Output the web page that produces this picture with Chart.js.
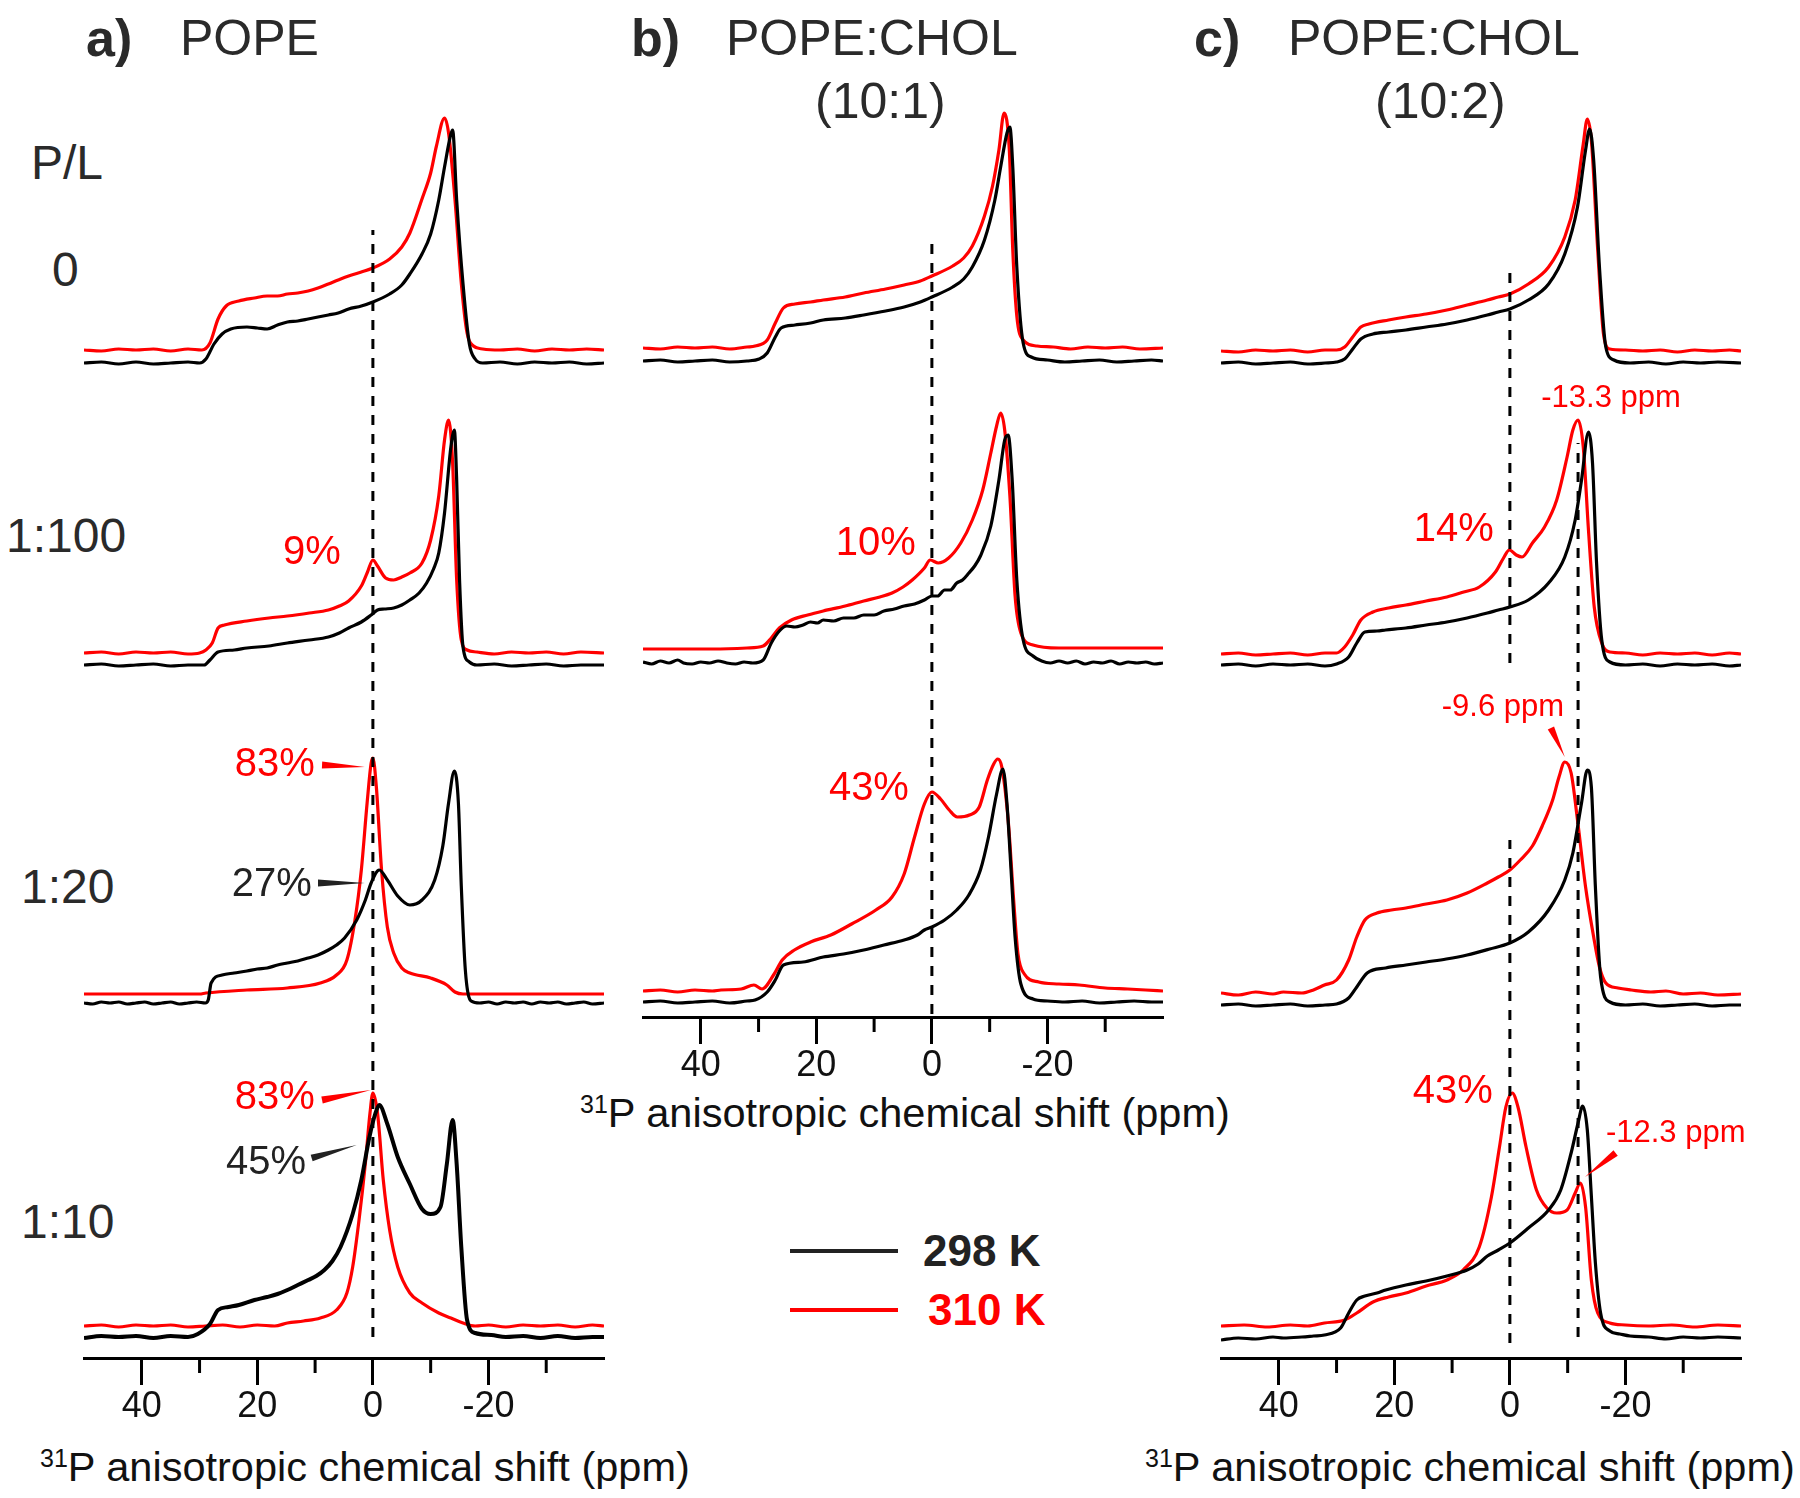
<!DOCTYPE html>
<html>
<head>
<meta charset="utf-8">
<script src="https://cdn.jsdelivr.net/npm/chart.js@4.4.0/dist/chart.umd.min.js"></script>
<style>
  body { margin:0; background:#fff; width:1800px; height:1498px; position:relative; overflow:hidden;
         font-family:"Liberation Sans", Arial, sans-serif; }
  canvas { position:absolute; top:0; }
  .t { position:absolute; white-space:nowrap; line-height:1; color:#2a2a2a; }
  .b { font-weight:bold; }
  .ax { font-size:41.5px; color:#111; }
  .ax sup { font-size:25px; vertical-align:14px; line-height:0; }
  .leg { position:absolute; height:4px; width:108px; }
</style>
</head>
<body>

<div class="t b" style="left:86px;top:12px;font-size:52px">a)</div>
<div class="t" style="left:180px;top:13px;font-size:50px">POPE</div>
<div class="t b" style="left:631px;top:12px;font-size:52px">b)</div>
<div class="t" style="left:726px;top:13px;font-size:50px">POPE:CHOL</div>
<div class="t" style="left:815px;top:76px;font-size:50px">(10:1)</div>
<div class="t b" style="left:1194px;top:12px;font-size:52px">c)</div>
<div class="t" style="left:1288px;top:13px;font-size:50px">POPE:CHOL</div>
<div class="t" style="left:1375px;top:76px;font-size:50px">(10:2)</div>

<div class="t" style="left:31px;top:139px;font-size:48px">P/L</div>
<div class="t" style="left:52px;top:246px;font-size:48px">0</div>
<div class="t" style="left:6px;top:512px;font-size:48px">1:100</div>
<div class="t" style="left:21px;top:863px;font-size:48px">1:20</div>
<div class="t" style="left:21px;top:1198px;font-size:48px">1:10</div>

<div class="t ax" style="left:40px;top:1446px"><sup>31</sup>P anisotropic chemical shift (ppm)</div>
<div class="t ax" style="left:580px;top:1092px"><sup>31</sup>P anisotropic chemical shift (ppm)</div>
<div class="t ax" style="left:1145px;top:1446px"><sup>31</sup>P anisotropic chemical shift (ppm)</div>

<div class="leg" style="left:790px;top:1249px;background:#222"></div>
<div class="leg" style="left:790px;top:1308px;background:#ff0000"></div>
<div class="t b" style="left:923px;top:1229px;font-size:44px;color:#222">298 K</div>
<div class="t b" style="left:928px;top:1288px;font-size:44px;color:#ff0000">310 K</div>

<canvas id="pa" width="660" height="1438" style="left:14px"></canvas>
<canvas id="pb" width="660" height="1097" style="left:573px"></canvas>
<canvas id="pc" width="639" height="1438" style="left:1161px"></canvas>

<script>
// ppm, intensity (a.u.), baseline = 0
// a) POPE
const a0_298 = [[50,0],[47,1],[44,-1],[41,1],[38,-1],[35,0],[32,1],[30,0],[28.9,4],[27.5,19],[26.1,29],[24.6,34],[21.8,36],[20,35],[18.3,34],[16.5,38],[14.8,41],[13,42],[11.2,44],[9.5,46],[7.7,48],[6,50],[4.2,54],[2,57],[0,61],[-2.9,69],[-5,78],[-6.4,89],[-8.5,109],[-10,129],[-11.4,163],[-12.4,196],[-13.5,229],[-13.8,233],[-14.5,163],[-15.6,79],[-16.7,19],[-17.7,4],[-19,0],[-22,1],[-25,-1],[-28,1],[-31,0],[-34,1],[-37,-1],[-40,0]];
const a0_310 = [[50,0],[47,-1],[44,1],[41,0],[38,1],[35,-1],[32,1],[29.6,0],[28.2,7],[26.8,31],[25.4,44],[23.2,49],[20.5,52],[18.3,54],[16.5,54],[14.8,56],[13,57],[11.2,59],[9.5,62],[7.7,66],[6,70],[4.2,74],[2,78],[0,82],[-2.9,91],[-5,103],[-6.4,117],[-8.5,151],[-10,177],[-11,204],[-12.4,232],[-13.1,217],[-14.2,151],[-15.3,67],[-16.3,17],[-17.4,4],[-19,1],[-22,0],[-25,1],[-28,-1],[-31,1],[-34,0],[-37,1],[-40,0]];
const a1_298 = [[50,0],[47,1],[44,-1],[41,0],[38,1],[35,-1],[32,0],[29.2,0],[28.2,5],[26.8,13],[24,15],[21.8,17],[18,19],[14.8,22],[11,25],[7.7,28],[5.8,32],[4.2,37],[2,43],[0.3,50],[-0.8,55],[-2,56],[-3.6,57],[-5,60],[-6.4,65],[-8,72],[-9.3,82],[-10.5,96],[-11.4,112],[-12.4,152],[-13.5,218],[-14.1,235],[-14.5,185],[-15,85],[-15.6,18],[-16.7,3],[-18,0],[-21,1],[-24,-1],[-27,0],[-30,1],[-33,-1],[-36,0],[-40,0]];
const a1_310 = [[50,0],[47,1],[44,-1],[41,1],[38,0],[35,1],[32,-1],[30,0],[28.9,3],[27.8,10],[26.8,25],[25.7,28],[21.8,32],[18,35],[14.8,37],[11,40],[7.7,43],[5.8,47],[4.2,52],[2,67],[1,80],[0,93],[-0.8,87],[-2.2,75],[-3.6,73],[-5,76],[-6.4,80],[-8.5,90],[-10,113],[-11.4,157],[-12.4,213],[-13.1,233],[-13.8,190],[-14.5,73],[-15.3,13],[-16.3,3],[-18,1],[-21,-1],[-24,1],[-27,0],[-30,1],[-33,-1],[-36,1],[-40,0]];
const a2_298 = [[50,0],[48.5,-1],[47,1],[45.5,0],[44,1],[42.5,-1],[41,0],[39.5,1],[38,-1],[36.5,0],[35,1],[33.5,-1],[32,0],[30.5,1],[29,0],[28.5,3],[28,20],[26.1,28],[24,30],[21.8,32],[20,34],[18.3,35],[16.5,38],[14.8,40],[13,42],[11.2,45],[9.5,48],[7.7,53],[6.3,58],[4.9,65],[2.8,83],[1.3,103],[0.3,120],[-1.1,133],[-2.5,123],[-4.3,107],[-6.4,98],[-8.5,103],[-10.7,123],[-12.1,157],[-13.1,200],[-14.1,232],[-14.8,200],[-15.3,117],[-16,33],[-17,2],[-18.5,0],[-20,1],[-21.5,-1],[-23,1],[-24.5,0],[-26,1],[-27.5,-1],[-29,1],[-30.5,0],[-32,1],[-33.5,-1],[-35,0],[-36.5,1],[-38,-1],[-40,0]];
const a2_310 = [[50,0],[40,0],[30,0],[28.9,1],[21.8,4],[14.8,6],[9.1,11],[6.3,19],[4.5,34],[3.1,74],[2,124],[1,191],[0.3,231],[0,236],[-0.6,207],[-1.5,124],[-2.5,67],[-3.6,41],[-5,26],[-6.4,21],[-10,16],[-12.8,9],[-14.2,2],[-15.6,0],[-25,0],[-40,0]];
const a3_298 = [[50,-1],[47,1],[44,0],[41,1],[38,-1],[35,1],[32,0],[30.3,3],[28.2,13],[26.8,27],[25,30],[23.2,32],[20.5,37],[18.3,40],[16.5,43],[14.8,47],[13,52],[11.2,57],[9.8,61],[8.4,67],[7,76],[5.6,90],[3.5,123],[2,157],[0.6,200],[-0.4,223],[-1.1,232],[-2.5,213],[-4.3,180],[-6.4,153],[-8.5,128],[-10,123],[-11.7,130],[-12.8,173],[-13.8,217],[-14.5,173],[-15.3,90],[-16.3,17],[-17.7,4],[-20.5,2],[-23,0],[-26,1],[-29,-1],[-32,1],[-35,-1],[-38,0],[-40,0]];
const a3_310 = [[50,0],[47,1],[44,-1],[41,1],[38,0],[35,1],[32,-1],[29,0],[26,1],[23,-1],[20,1],[17,0],[14.8,3],[12,5],[9.1,8],[6.3,16],[4.5,33],[3.5,59],[2.4,106],[1.3,163],[0.5,213],[0,233],[-0.8,213],[-1.8,146],[-2.9,96],[-4.3,59],[-6.4,33],[-8.5,23],[-11.4,13],[-13.5,8],[-15.6,3],[-17.7,0],[-20,1],[-23,-1],[-26,1],[-29,0],[-32,1],[-35,-1],[-38,1],[-40,0]];

// b) POPE:CHOL (10:1)
const b0_298 = [[50,0],[47,1],[44,-1],[41,0],[38,1],[35,-1],[32,0],[29.9,2],[28.5,8],[27.1,24],[26.1,33],[23.7,36],[21,38],[18.8,41],[15,43],[11.8,46],[8,50],[4.8,54],[2,59],[0,64],[-3.6,74],[-5.5,82],[-7,94],[-9.1,121],[-10.9,161],[-11.9,194],[-13,228],[-13.5,234],[-14,194],[-14.7,94],[-15.8,18],[-17.2,4],[-20,1],[-23,-1],[-26,0],[-29,1],[-32,-1],[-35,0],[-38,1],[-40,0]];
const b0_310 = [[50,0],[47,-1],[44,1],[41,0],[38,1],[35,-1],[32,1],[30.6,2],[28.5,8],[27.1,25],[25.7,40],[23.7,44],[21,46],[18.8,48],[15,51],[11.8,55],[8,59],[4.8,63],[2,67],[0,72],[-3.6,82],[-5.5,90],[-7,102],[-9.1,132],[-10.5,162],[-11.6,198],[-12.5,235],[-13.4,198],[-14,98],[-14.7,32],[-15.8,8],[-18.2,2],[-21,1],[-24,-1],[-27,1],[-30,0],[-33,1],[-36,-1],[-40,0]];
const b1_298 = [[50,1],[48.5,-1],[47,2],[45.5,0],[44,3],[43,0],[41.5,-1],[40,1],[38.5,0],[37,2],[35.5,0],[34,-1],[32.5,1],[31,0],[29.2,3],[27.8,20],[26.4,32],[25.1,37],[23.7,36],[22.3,38],[21,41],[19.8,40],[18.8,43],[17,42],[15.3,45],[13.5,45],[11.8,48],[10,48],[8.3,52],[6.5,54],[4.8,57],[3,59],[1.3,63],[0,67],[-1,67],[-2.2,73],[-3.2,73],[-4.3,80],[-5.3,83],[-6.4,90],[-7.4,97],[-8.4,107],[-10.2,137],[-11.6,183],[-12.6,223],[-13.2,228],[-13.9,183],[-14.7,83],[-15.8,23],[-17.5,7],[-19,2],[-20.5,0],[-22,2],[-23.5,0],[-25,2],[-26.5,-1],[-28,1],[-29.5,0],[-31,2],[-32.5,-1],[-34,1],[-35.5,0],[-37,1],[-38.5,-1],[-40,0]];
const b1_310 = [[50,0],[44,0],[38,0],[32,1],[29.2,3],[27.8,11],[26.4,21],[24.3,29],[21.5,34],[18.8,38],[15,43],[11.8,48],[9,52],[6.9,56],[5,62],[3.4,69],[1.3,81],[0.3,89],[-1.1,86],[-2.9,91],[-5,106],[-7,129],[-8.8,159],[-10.2,196],[-11.2,223],[-11.9,236],[-12.6,219],[-13.5,153],[-14.4,53],[-15.4,16],[-17.5,4],[-22,1],[-30,1],[-40,1]];
const b2_298 = [[50,0],[47,1],[44,-1],[41,0],[38,1],[35,-1],[32,1],[30.6,2],[28.5,10],[27.1,22],[25.7,37],[22.3,40],[18.8,45],[15.3,48],[11.8,52],[8.3,57],[4.8,62],[2.5,67],[1.3,72],[0,75],[-2.2,82],[-4.3,92],[-6.4,107],[-8.4,132],[-9.8,165],[-11.2,208],[-12.3,233],[-13,198],[-13.7,132],[-14.4,65],[-15.4,18],[-17.5,3],[-20,1],[-23,0],[-26,1],[-29,-1],[-32,0],[-35,1],[-38,0],[-40,0]];
const b2_310 = [[50,0],[47,1],[44,-1],[41,1],[38,0],[36.5,1],[33,2],[30.8,6],[29.4,2],[27.3,17],[25.9,31],[23.8,41],[21,49],[17.5,56],[13.9,67],[9.7,81],[6.9,94],[4.8,117],[3,154],[1.3,187],[0,199],[-1.5,192],[-3,181],[-4.4,174],[-6.5,176],[-8.2,184],[-9.6,211],[-10.7,227],[-11.4,232],[-12.1,224],[-13.2,171],[-14.2,87],[-14.9,37],[-16,17],[-18.5,9],[-22,7],[-25.5,6],[-30,3],[-33.9,2],[-37,1],[-40,0]];

// c) POPE:CHOL (10:2)
const c0_298 = [[50,0],[47,1],[44,-1],[41,0],[38,1],[35,-1],[32,0],[30,1],[28.6,4],[27.2,14],[25.8,24],[23.7,29],[21,31],[18,33],[14.5,36],[10.9,39],[7.4,43],[3.9,48],[2,51],[0,54],[-3.2,63],[-6.7,79],[-9.5,109],[-11.7,156],[-13.1,213],[-13.8,234],[-14.5,203],[-15.5,96],[-16.6,16],[-18,3],[-20.8,0],[-24,1],[-27,-1],[-30,1],[-33,0],[-36,1],[-40,0]];
const c0_310 = [[50,0],[47,-1],[44,1],[41,0],[38,1],[35,-1],[32,1],[30,1],[28.6,4],[27.2,14],[25.8,24],[24.4,27],[21,31],[18,34],[14.5,37],[10.9,41],[7.4,46],[3.9,51],[2,54],[0,57],[-3.2,67],[-6.7,84],[-9.5,114],[-11.3,151],[-12.7,207],[-13.4,232],[-14.1,211],[-15.2,101],[-16.2,17],[-17.3,2],[-20,1],[-23,0],[-26,1],[-29,-1],[-32,1],[-35,0],[-38,1],[-40,0]];
const c1_298 = [[50,0],[47,1],[44,-1],[41,1],[38,0],[35,1],[32,-1],[30,1],[27.9,8],[26.5,22],[25.1,33],[23,34],[21.5,35],[18,37],[14.5,40],[10.9,43],[7.4,47],[3.9,52],[2,55],[0,58],[-3.2,65],[-6.7,82],[-9.5,108],[-11.3,145],[-12.4,185],[-13.6,233],[-14.3,202],[-15,102],[-15.9,25],[-17.3,3],[-20,0],[-23,1],[-26,-1],[-29,1],[-32,0],[-35,1],[-38,-1],[-40,0]];
const c1_310 = [[50,0],[47,1],[44,-1],[41,0],[38,1],[35,-1],[32,1],[30,1],[28.6,7],[27.2,19],[25.8,34],[23.7,42],[21,46],[18,49],[14.5,53],[10.9,57],[8,62],[5.3,67],[2.5,82],[1.1,96],[0.1,104],[-1.1,99],[-2.1,97],[-3.9,111],[-6,127],[-8.1,154],[-9.9,197],[-10.9,224],[-11.8,234],[-12.7,207],[-13.6,124],[-14.6,47],[-15.9,11],[-17.3,2],[-20,1],[-23,-1],[-26,1],[-29,0],[-32,1],[-35,-1],[-38,1],[-40,0]];
const c2_298 = [[50,0],[47,1],[44,-1],[41,0],[38,1],[35,-1],[32,0],[30,1],[27.9,7],[26.5,18],[24.7,32],[21.5,37],[18,40],[14.5,43],[11,46],[7.4,50],[3.5,56],[0,62],[-3.2,73],[-6.7,95],[-9.5,125],[-10.9,152],[-12.4,202],[-13.4,235],[-14.1,218],[-14.8,118],[-15.7,28],[-17.3,3],[-20,0],[-23,1],[-26,-1],[-29,0],[-32,1],[-35,-1],[-38,0],[-40,0]];
const c2_310 = [[50,1],[47,-1],[44,2],[41,0],[39.2,2],[36,1],[34,4],[32.1,9],[30,14],[27.9,34],[26.5,57],[25.1,74],[23,81],[20.5,84],[18,86],[14.5,90],[10.9,94],[7.4,101],[3.9,111],[2,117],[0,124],[-1.8,134],[-3.9,148],[-5.6,168],[-7.4,194],[-8.5,217],[-9.5,232],[-10.6,221],[-11.7,174],[-13.1,107],[-14.5,57],[-15.5,27],[-16.6,11],[-18.7,6],[-21,4],[-24.4,2],[-27,3],[-30,0],[-33,1],[-36,-1],[-40,0]];
const c3_298 = [[50,-2],[47,0],[44,-1],[41,1],[39.2,0],[36,1],[34,2],[32.1,3],[29.3,10],[27.9,25],[26.5,38],[25.1,42],[23,45],[21.5,48],[18,53],[14.5,57],[10.9,62],[7.4,68],[5.5,74],[3.9,82],[2,88],[0,95],[-3.2,110],[-6.7,128],[-8.8,148],[-10.6,185],[-11.8,215],[-12.6,232],[-13.4,208],[-14.1,142],[-14.8,75],[-15.7,25],[-17.3,7],[-19,4],[-20.8,2],[-24,1],[-27,-1],[-30,1],[-33,0],[-36,1],[-40,0]];
const c3_310 = [[50,0],[46,1],[42,-1],[38,1],[35,0],[32.1,3],[28.6,6],[26.5,13],[23.7,24],[21,29],[18,33],[14.5,40],[10.9,46],[8.1,56],[5.3,79],[3.2,129],[1.8,179],[0.7,219],[-0.4,233],[-1.4,219],[-2.8,179],[-4.6,136],[-6.4,118],[-8.1,113],[-9.9,116],[-11.3,133],[-12.2,143],[-13.1,119],[-14.1,46],[-15.2,13],[-17.3,3],[-20,1],[-24,0],[-28,1],[-32,-1],[-36,1],[-40,0]];

const majorTicks = [40, 20, 0, -20];
const minorTicks = [30, 10, -10, -30];

// annotation labels
const notesA = [
  {text:'9%', x:10.55, y:805, color:'#ff0000'},
  {text:'83%', x:17.0, y:593, color:'#ff0000', ptr:[8.8,593,1.4,591]},
  {text:'27%', x:17.5, y:473, color:'#222', ptr:[9.5,475,1.4,475]},
  {text:'83%', x:17.0, y:260, color:'#ff0000', ptr:[8.8,258,0.35,268]},
  {text:'45%', x:18.5, y:195, color:'#222', ptr:[10.6,200,2.8,213]}
];
const notesB = [
  {text:'10%', x:9.7, y:473, color:'#ff0000'},
  {text:'43%', x:10.9, y:228, color:'#ff0000'}
];
const notesC = [
  {text:'-13.3 ppm', x:-17.5, y:960, color:'#ff0000', size:31},
  {text:'14%', x:9.7, y:828, color:'#ff0000'},
  {text:'-9.6 ppm', x:1.2, y:651, color:'#ff0000', size:31, ptr:[-7.1,630,-9.5,601]},
  {text:'43%', x:9.9, y:266, color:'#ff0000'},
  {text:'-12.3 ppm', x:-28.7, y:225, color:'#ff0000', size:31, ptr:[-18.3,205,-13,181]}
];

// layout: baseline height of each trace above the axis, dashed guide lines [ppm, from, to]
const rowBaseA298 = [995, 693, 355, 21], rowBaseA310 = [1008, 705, 364, 32];
const rowBaseB298 = [656, 354, 15], rowBaseB310 = [669, 368, 26];
const rowBaseC298 = [995, 693, 353, 20], rowBaseC310 = [1007, 704, 364, 32];
const guidesA = [[0, 21, 1128]];
const guidesB = [[0, 3, 777]];
const guidesC = [[0, 695, 1088], [0, 15, 518], [-11.8, 21, 915]];

const FONT = '"Liberation Sans", Arial, sans-serif';

const extras = {
  id: 'extras',
  afterDraw(chart, args, opts) {
    const { ctx, chartArea } = chart;
    const x = chart.scales.x, y = chart.scales.y;
    const b = chartArea.bottom;
    ctx.save();
    ctx.strokeStyle = '#000';
    ctx.lineWidth = 3;
    minorTicks.forEach(v => {
      const px = x.getPixelForValue(v);
      ctx.beginPath(); ctx.moveTo(px, b); ctx.lineTo(px, b + 15); ctx.stroke();
    });
    opts.notes.forEach(n => {
      ctx.fillStyle = n.color;
      if (n.ptr) {
        const x1 = x.getPixelForValue(n.ptr[0]), y1 = y.getPixelForValue(n.ptr[1]);
        const x2 = x.getPixelForValue(n.ptr[2]), y2 = y.getPixelForValue(n.ptr[3]);
        const len = Math.hypot(x2 - x1, y2 - y1), w = 3.5;
        const nx = -(y2 - y1) / len * w, ny = (x2 - x1) / len * w;
        ctx.beginPath();
        ctx.moveTo(x1 + nx, y1 + ny); ctx.lineTo(x1 - nx, y1 - ny); ctx.lineTo(x2, y2);
        ctx.closePath(); ctx.fill();
      }
      ctx.font = (n.size || 40) + 'px ' + FONT;
      ctx.textAlign = 'center';
      ctx.textBaseline = 'middle';
      ctx.fillText(n.text, x.getPixelForValue(n.x), y.getPixelForValue(n.y));
    });
    ctx.restore();
  }
};

function trace(arr, base, color, width) {
  return {
    data: arr.map(p => ({ x: p[0], y: base + p[1] })),
    borderColor: color, borderWidth: width || 3.2,
    pointRadius: 0, cubicInterpolationMode: 'monotone', fill: false
  };
}

function panel(id, axisY, pad, black, red, guides, notes) {
  const datasets = [];
  guides.forEach(g => datasets.push({
    data: [{ x: g[0], y: g[1] }, { x: g[0], y: g[2] }],
    borderColor: '#000', borderWidth: 3, borderDash: [10, 9], pointRadius: 0
  }));
  black.forEach(s => datasets.push(trace(s[0], s[1], '#000', s[2])));
  red.forEach(s => datasets.push(trace(s[0], s[1], '#ff0000')));
  new Chart(document.getElementById(id), {
    type: 'line',
    data: { datasets },
    plugins: [extras],
    options: {
      responsive: false, animation: false, devicePixelRatio: 1,
      layout: { padding: { left: pad[0], right: pad[1], top: 0, bottom: 0 } },
      plugins: { legend: { display: false }, tooltip: { enabled: false }, extras: { notes } },
      scales: {
        x: {
          type: 'linear', min: -40, max: 50, reverse: true,
          afterFit: s => { s.height = 80; },
          border: { display: true, color: '#000', width: 3 },
          grid: {
            drawOnChartArea: false, drawTicks: true, tickLength: 27, tickWidth: 3,
            tickColor: c => majorTicks.includes(c.tick && c.tick.value) ? '#000' : 'rgba(0,0,0,0)'
          },
          ticks: {
            stepSize: 10, autoSkip: false, maxRotation: 0, padding: 0,
            color: '#111', font: { family: FONT, size: 36 },
            callback: v => majorTicks.includes(v) ? String(v) : ''
          }
        },
        y: { type: 'linear', display: false, min: 0, max: axisY }
      }
    }
  });
}

panel('pa', 1358, [70, 70],
  [[a0_298, rowBaseA298[0]], [a1_298, rowBaseA298[1]], [a2_298, rowBaseA298[2]], [a3_298, rowBaseA298[3], 4]],
  [[a0_310, rowBaseA310[0]], [a1_310, rowBaseA310[1]], [a2_310, rowBaseA310[2]], [a3_310, rowBaseA310[3]]],
  guidesA, notesA);
panel('pb', 1017, [70, 70],
  [[b0_298, rowBaseB298[0]], [b1_298, rowBaseB298[1]], [b2_298, rowBaseB298[2]]],
  [[b0_310, rowBaseB310[0]], [b1_310, rowBaseB310[1]], [b2_310, rowBaseB310[2]]],
  guidesB, notesB);
panel('pc', 1358, [60, 59],
  [[c0_298, rowBaseC298[0]], [c1_298, rowBaseC298[1]], [c2_298, rowBaseC298[2]], [c3_298, rowBaseC298[3]]],
  [[c0_310, rowBaseC310[0]], [c1_310, rowBaseC310[1]], [c2_310, rowBaseC310[2]], [c3_310, rowBaseC310[3]]],
  guidesC, notesC);
</script>
</body>
</html>
